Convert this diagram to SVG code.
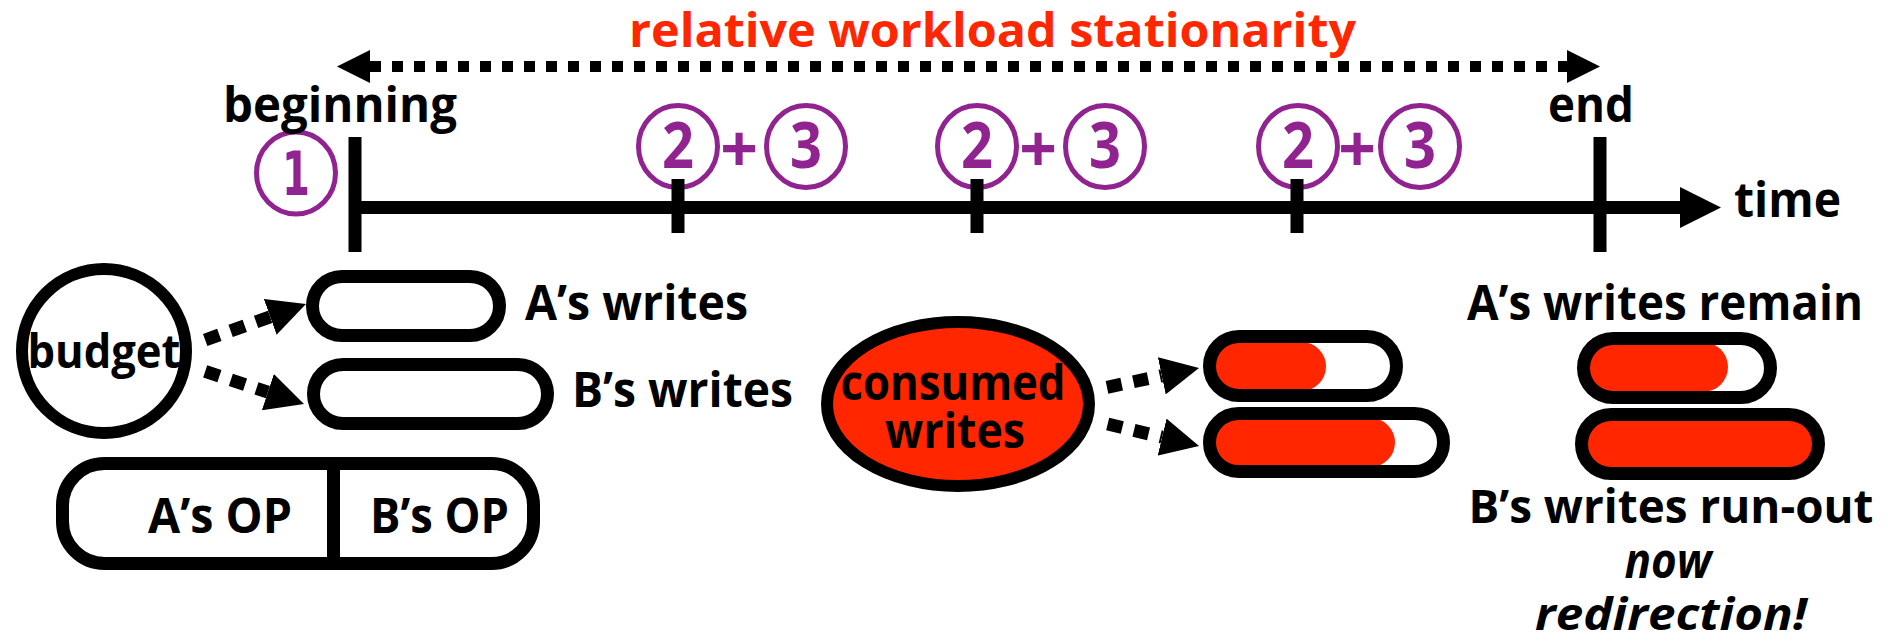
<svg xmlns="http://www.w3.org/2000/svg" width="1888" height="642" viewBox="0 0 1888 642">
<style>
text { font-family: "Open Sans", "Noto Sans", "DejaVu Sans", sans-serif; font-weight: 700; }
.lbl { font-size: 48px; fill: #000; }
.ital { font-style: italic; }
.title { font-size: 46px; fill: #FF2600; }
.num { font-size: 64px; fill: #912391; text-anchor: middle; }
.plus { font-size: 66px; fill: #912391; text-anchor: middle; }
.ring { fill: #fff; stroke: #912391; stroke-width: 5; }
.barbg { fill: #fff; }
.barline { fill: none; stroke: #000; stroke-width: 13; }
.red { fill: #FF2600; }
.tick { stroke: #000; stroke-width: 13; }
.dash { fill: none; stroke: #000; stroke-width: 13; stroke-dasharray: 15 12; }
.dots { fill: none; stroke: #000; stroke-width: 11; stroke-dasharray: 11 11; }
</style>
<defs>
<marker id="head" markerUnits="userSpaceOnUse" viewBox="0 0 38 38" markerWidth="38" markerHeight="38" refX="0" refY="19" orient="auto"><path d="M0,0 L38,19 L0,38 Z" fill="#000"/></marker>
<marker id="tri" markerUnits="userSpaceOnUse" viewBox="0 0 33 33" markerWidth="33" markerHeight="33" refX="0" refY="16.5" orient="auto-start-reverse"><path d="M0,0 L33,16.5 L0,33 Z" fill="#000"/></marker>
</defs>

<g id="title">
<text class="title" x="629" y="47" textLength="727" lengthAdjust="spacingAndGlyphs">relative workload stationarity</text>
</g>

<g id="steps">
<g id="step1"><ellipse class="ring" cx="296" cy="173" rx="39.5" ry="41"/><text class="num" x="296" y="195" textLength="28" lengthAdjust="spacingAndGlyphs" style="font-family:'DejaVu Sans', sans-serif;font-size:61px">1</text></g>
<g id="step2a"><ellipse class="ring" cx="678" cy="146.5" rx="39.5" ry="41"/><text class="num" x="678" y="168" textLength="32" lengthAdjust="spacingAndGlyphs">2</text></g>
<g id="plus1"><text class="plus" x="739" y="172">+</text></g>
<g id="step3a"><ellipse class="ring" cx="806" cy="146.5" rx="39.5" ry="41"/><text class="num" x="806" y="168" textLength="32" lengthAdjust="spacingAndGlyphs">3</text></g>
<g id="step2b"><ellipse class="ring" cx="977" cy="146.5" rx="39.5" ry="41"/><text class="num" x="977" y="168" textLength="32" lengthAdjust="spacingAndGlyphs">2</text></g>
<g id="plus2"><text class="plus" x="1038" y="172">+</text></g>
<g id="step3b"><ellipse class="ring" cx="1105" cy="146.5" rx="39.5" ry="41"/><text class="num" x="1105" y="168" textLength="32" lengthAdjust="spacingAndGlyphs">3</text></g>
<g id="step2c"><ellipse class="ring" cx="1298" cy="146.5" rx="39.5" ry="41"/><text class="num" x="1298" y="168" textLength="32" lengthAdjust="spacingAndGlyphs">2</text></g>
<g id="plus3"><text class="plus" x="1357" y="172">+</text></g>
<g id="step3c"><ellipse class="ring" cx="1420" cy="146.5" rx="39.5" ry="41"/><text class="num" x="1420" y="168" textLength="32" lengthAdjust="spacingAndGlyphs">3</text></g>
</g>

<g id="timeline">
<line class="tick" x1="355" y1="207.5" x2="1682" y2="207.5"/>
<polygon points="1680,187 1721,207.5 1680,228" fill="#000"/>
<line class="tick" x1="355" y1="137" x2="355" y2="252"/>
<line class="tick" x1="1600" y1="137" x2="1600" y2="252"/>
<line class="tick" x1="678" y1="179" x2="678" y2="233"/>
<line class="tick" x1="977" y1="179" x2="977" y2="233"/>
<line class="tick" x1="1297" y1="179" x2="1297" y2="233"/>
<text class="lbl" x="223" y="122" textLength="234" lengthAdjust="spacingAndGlyphs">beginning</text>
<text class="lbl" x="1548" y="122" textLength="86" lengthAdjust="spacingAndGlyphs">end</text>
<text class="lbl" x="1734" y="217" textLength="107" lengthAdjust="spacingAndGlyphs">time</text>
</g>

<g id="budget">
<circle cx="104" cy="351" r="82" fill="#fff" stroke="#000" stroke-width="12"/>
<text class="lbl" x="104" y="368" text-anchor="middle" textLength="153" lengthAdjust="spacingAndGlyphs" style="font-size:46px">budget</text>
</g>

<g id="a-writes">
<rect class="barbg" x="312.5" y="276.5" width="187" height="59" rx="29.5"/>
<rect class="barline" x="312.5" y="276.5" width="187" height="59" rx="29.5"/>
<text class="lbl" x="525" y="320" textLength="223" lengthAdjust="spacingAndGlyphs">A’s writes</text>
</g>

<g id="b-writes">
<rect class="barbg" x="313.5" y="364.5" width="234" height="59" rx="29.5"/>
<rect class="barline" x="313.5" y="364.5" width="234" height="59" rx="29.5"/>
<text class="lbl" x="572" y="407" textLength="221" lengthAdjust="spacingAndGlyphs">B’s writes</text>
</g>

<g id="op">
<rect x="62.5" y="463.5" width="471" height="100" rx="42" fill="#fff" stroke="#000" stroke-width="13"/>
<line class="tick" x1="333.5" y1="457" x2="333.5" y2="570"/>
<text class="lbl" x="148" y="533" textLength="144" lengthAdjust="spacingAndGlyphs">A’s OP</text>
<text class="lbl" x="370" y="533" textLength="139" lengthAdjust="spacingAndGlyphs">B’s OP</text>
</g>

<g id="consumed">
<ellipse cx="958" cy="404" rx="131" ry="82" fill="#FF2600" stroke="#000" stroke-width="12"/>
<text class="lbl" x="953" y="400" text-anchor="middle" textLength="225" lengthAdjust="spacingAndGlyphs">consumed</text>
<text class="lbl" x="955" y="448" text-anchor="middle" textLength="140" lengthAdjust="spacingAndGlyphs">writes</text>
</g>

<g id="mid-a">
<rect class="barbg" x="1209.5" y="336.5" width="187" height="59" rx="29.5"/>
<rect class="red" x="1211" y="342" width="115" height="49" rx="24.5"/>
<rect class="barline" x="1209.5" y="336.5" width="187" height="59" rx="29.5"/>
</g>

<g id="mid-b">
<rect class="barbg" x="1209.5" y="413.5" width="234" height="58" rx="29"/>
<rect class="red" x="1211" y="418" width="184" height="49" rx="24.5"/>
<rect class="barline" x="1209.5" y="413.5" width="234" height="58" rx="29"/>
</g>

<g id="end-a">
<text class="lbl" x="1665" y="320" text-anchor="middle" textLength="396" lengthAdjust="spacingAndGlyphs">A’s writes remain</text>
<rect class="barbg" x="1583.5" y="338.5" width="187" height="59" rx="29.5"/>
<rect class="red" x="1587" y="342" width="141" height="50" rx="25"/>
<rect class="barline" x="1583.5" y="338.5" width="187" height="59" rx="29.5"/>
</g>

<g id="end-b">
<rect class="red" x="1581.5" y="414.5" width="237" height="59" rx="29.5"/>
<rect class="barline" x="1581.5" y="414.5" width="237" height="59" rx="29.5"/>
<text class="lbl" x="1671" y="523" text-anchor="middle" textLength="405" lengthAdjust="spacingAndGlyphs" style="font-size:46px">B’s writes run-out</text>
<text class="lbl ital" x="1668" y="578" text-anchor="middle" textLength="87" lengthAdjust="spacingAndGlyphs">now</text>
<text class="lbl ital" x="1671" y="630" text-anchor="middle" textLength="272" lengthAdjust="spacingAndGlyphs" style="font-size:44px">redirection!</text>
</g>

<g id="connectors">
<path class="dots" d="M370,66.5 L1567,66.5" marker-start="url(#tri)" marker-end="url(#tri)"/>
<path class="dash" d="M205.2,340 L270.2,316.8" marker-end="url(#head)"/>
<path class="dash" d="M205.2,371.4 L267.9,392.1" marker-end="url(#head)"/>
<path class="dash" d="M1107,387.3 L1161.8,375.8" marker-end="url(#head)"/>
<path class="dash" d="M1107.7,424 L1162.1,437.1" marker-end="url(#head)"/>
</g>
</svg>
